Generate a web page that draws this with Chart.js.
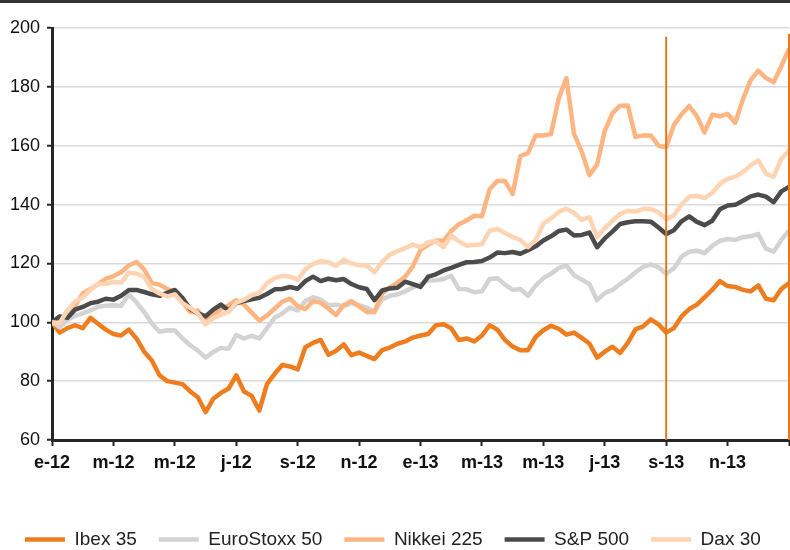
<!DOCTYPE html>
<html>
<head>
<meta charset="utf-8">
<script src="https://cdn.jsdelivr.net/npm/chart.js@4"></script>
<style>
  html, body { margin: 0; padding: 0; background: #fff; overflow: hidden; }
  #marco { width: 790px; height: 550px; border-top: 3px solid #333; box-sizing: border-box; overflow: hidden; }
  #grafico { display: block; }
</style>
</head>
<body>
<div id="marco"><canvas id="grafico" width="790" height="556" style="width:790px;height:556px"></canvas></div>
<script>
// etiquetas del eje x, una cada dos meses
var meses = ['e-12', 'm-12', 'm-12', 'j-12', 's-12', 'n-12', 'e-13', 'm-13', 'm-13', 'j-13', 's-13', 'n-13'];
// lecturas cada cuarto de mes, base 100 = enero 2012
var paso = 0.25;

var ibex = [100, 96.5, 98, 99, 98, 101.5, 99.5, 97.5, 96, 95.5,
    97.5, 94.5, 90, 87, 82, 80, 79.5, 79, 76.5, 74.5,
    69.5, 74, 76, 77.5, 82, 76.5, 75, 70, 79, 82.5,
    85.5, 85, 84, 91.5, 93, 94, 89, 90.3, 92.5, 88.8,
    89.7, 88.6, 87.5, 90.5, 91.4, 92.7, 93.5, 94.8, 95.5, 96,
    99, 99.3, 98, 94, 94.5, 93.5, 95.5, 99, 97.5, 94,
    91.8, 90.5, 90.5, 95, 97.3, 98.8, 97.8, 95.8, 96.5, 94.7,
    92.8, 88, 90, 91.7, 89.6, 93, 97.6, 98.6, 101, 99.3,
    96.5, 98, 102, 104.5, 106, 108.5, 111, 114, 112.3, 112,
    111, 110.5, 112.5, 108, 107.5, 111.3, 113.3];

var euroStoxx = [100, 98.3, 100.8, 102.2, 103, 104, 105.3, 105.6, 105.8, 105.5,
    109.4, 106.8, 103.5, 99.6, 96.8, 97.3, 97.2, 94.5, 92.2, 90.4,
    88, 89.9, 91.3, 91, 95.7, 94.5, 95.4, 94.5, 98, 101.5,
    103, 105, 104, 107.2, 108.5, 107.7, 105.8, 106, 105.5, 106.5,
    105.8, 105, 103.5, 107.8, 109, 109.5, 110.5, 111.8, 113, 114.2,
    114.3, 114.7, 115.8, 111.3, 111.2, 110.2, 110.5, 114.7, 115, 112.8,
    111, 111.3, 109, 112.5, 115, 116.5, 118.4, 119.3, 116, 114.5,
    113, 107.5, 109.9, 111, 113, 114.8, 117, 118.8, 119.7, 118.7,
    116.5, 118.3, 122.3, 124, 124.3, 123.5, 126, 127.7, 128.3, 128,
    128.9, 129.2, 130, 125, 124, 128, 131.1];

var nikkei = [100, 100, 104, 105.5, 109.8, 111.3, 113, 114.8, 115.7, 117,
    119.3, 120.5, 118, 113.3, 112.8, 111.3, 110.5, 106.8, 103.5, 104,
    100.5, 102.5, 104.5, 105.8, 107.5, 106, 103.3, 100.6, 102.3, 104.6,
    107, 108, 105.5, 104.5, 107.2, 106.6, 104.7, 102.5, 105.8, 107.2,
    105.4, 103.5, 103.5, 109.8, 111.8, 113.5, 115.5, 119, 124.6, 126.3,
    127.8, 127.7, 131, 133.3, 134.6, 136.2, 136, 145.2, 148, 148,
    143.6, 156.5, 157.5, 163.5, 163.5, 164, 176, 183, 164, 158,
    150, 153.6, 165, 171, 173.6, 173.7, 163, 163.5, 163.5, 160,
    159.5, 167, 170.7, 173.5, 170, 164.5, 170.5, 170, 170.8, 167.8,
    175.8, 182.3, 185.5, 183, 181.6, 187, 193];

var sp500 = [100, 102, 101.5, 104.3, 105.2, 106.5, 107, 108, 107.7, 109,
    111, 111, 110.3, 109.5, 109, 110, 111, 108.2, 104.5, 103,
    102, 104.3, 106, 104, 106.5, 107.2, 107.8, 108.3, 109.6, 111.2,
    111.3, 112, 111.4, 114, 115.5, 114, 114.8, 114.3, 114.7, 113,
    111.9, 111.3, 107.5, 110.8, 111.5, 111.7, 113.8, 113, 112, 115.5,
    116.3, 117.6, 118.5, 119.5, 120.4, 120.5, 120.8, 122, 123.7, 123.5,
    123.9, 123.3, 124.5, 125.8, 127.8, 129.2, 131, 131.5, 129.5, 129.7,
    130.5, 125.5, 128.5, 130.8, 133.4, 134, 134.3, 134.3, 134.2, 132.2,
    130, 131.3, 134.3, 136, 134.1, 133, 134.5, 138.4, 139.7, 139.9,
    141.3, 142.8, 143.4, 142.7, 140.8, 144.5, 146];

var dax = [100, 99.8, 104, 107, 108.4, 111, 113, 113, 113.7, 113.5,
    116.8, 116.6, 115.4, 111.3, 109.8, 108.8, 109.5, 106.5, 104.9, 103,
    99.3, 101.4, 102.5, 103.6, 106.7, 107.6, 109.2, 110, 113.3, 115,
    115.8, 115.5, 114.5, 118, 119.8, 120.8, 120.4, 119.2, 121.2, 120,
    119.4, 119.3, 117, 120.5, 123, 124.2, 125.2, 126.4, 125.5, 127.2,
    127.5, 125.5, 129.5, 127.5, 126, 126.3, 126.5, 131.1, 131.7, 130.3,
    129, 128, 125.5, 128, 133.5, 135.3, 137.5, 138.6, 137.2, 134.8,
    135.7, 129, 132, 134.5, 136.8, 137.9, 137.6, 138.5, 138.5, 137.4,
    135, 136.3, 140, 142.7, 143, 142.2, 144, 147, 148.7, 149.5,
    151, 153.3, 155, 150.5, 149.4, 155.5, 158.4];

// lineas verticales naranjas (mes) y su altura
var marcas = [20, 24];
var topeMarcas = [197, 198];

var fuente = 'Liberation Sans, Arial, Helvetica, sans-serif';

function puntos(serie) {
    return serie.map(function (v, i) { return { x: i * paso, y: v }; });
}

function serie(nombre, datos, color, orden) {
    return {
        label: nombre,
        data: puntos(datos),
        borderColor: color,
        backgroundColor: color,
        borderWidth: 4.5,
        pointRadius: 0,
        borderJoinStyle: 'round',
        tension: 0,
        order: orden
    };
}

var datasets = [
    serie('Ibex 35', ibex, '#ED7D1F', 4),
    serie('EuroStoxx 50', euroStoxx, '#D3D3D3', 3),
    serie('Nikkei 225', nikkei, '#FFB582', 2),
    serie('S&P 500', sp500, '#4B4B4B', 1),
    serie('Dax 30', dax, '#FFD4B3', 0)
];

marcas.forEach(function (m, i) {
    datasets.push({
        label: '',
        data: [{ x: m, y: 60 }, { x: m, y: topeMarcas[i] }],
        borderColor: '#E8761A',
        borderWidth: 2,
        pointRadius: 0,
        clip: false,
        order: -1
    });
});

var ctx = document.getElementById('grafico').getContext('2d');
var grafico = new Chart(ctx, {
    type: 'line',
    data: { datasets: datasets },
    options: {
        responsive: false,
        animation: false,
        layout: { padding: { top: 25, left: 3, right: 1, bottom: 0 } },
        plugins: {
            legend: {
                position: 'bottom',
                align: 'start',
                labels: {
                    usePointStyle: true,
                    pointStyle: 'line',
                    pointStyleWidth: 40,
                    boxHeight: 5,
                    padding: 22,
                    color: '#222',
                    font: { family: fuente, size: 19 },
                    filter: function (item) { return item.text !== ''; },
                    sort: function (a, b) { return a.datasetIndex - b.datasetIndex; }
                }
            },
            tooltip: { enabled: false }
        },
        scales: {
            x: {
                type: 'linear',
                min: 0,
                max: 24,
                // hueco entre eje y leyenda, sin margen a la derecha
                afterFit: function (s) { s.height = 68; s.paddingRight = 0; },
                border: { color: '#262626', width: 3 },
                grid: { drawOnChartArea: false, tickLength: 6, tickColor: '#262626', tickWidth: 2 },
                ticks: {
                    stepSize: 2,
                    padding: 6,
                    autoSkip: false,
                    maxRotation: 0,
                    color: '#111',
                    font: { family: fuente, size: 18, weight: 'bold' },
                    callback: function (v) { return meses[v / 2] || ''; }
                }
            },
            y: {
                min: 60,
                max: 200,
                border: { color: '#262626', width: 3 },
                grid: { color: '#dadada', lineWidth: 1.5, tickLength: 5, tickColor: '#262626', tickWidth: 2 },
                ticks: {
                    stepSize: 20,
                    padding: 7,
                    color: '#111',
                    font: { family: fuente, size: 18 }
                }
            }
        }
    }
});
</script>
</body>
</html>
